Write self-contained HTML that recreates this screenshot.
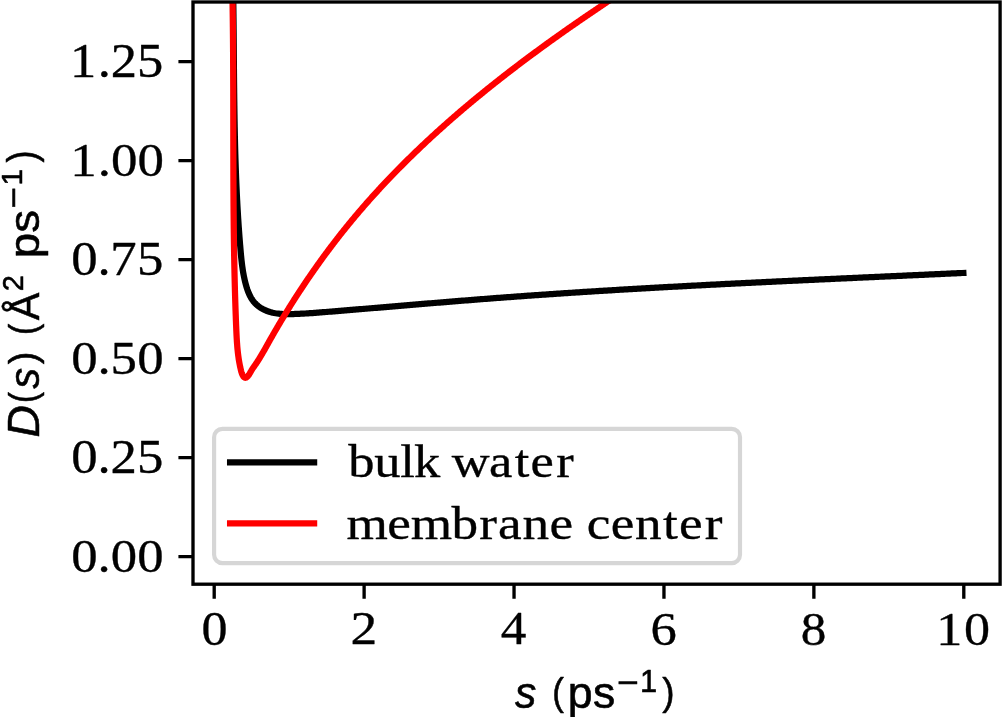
<!DOCTYPE html>
<html><head><meta charset="utf-8"><title>D(s) plot</title><style>html,body{margin:0;padding:0;background:#fff;overflow:hidden}svg{display:block}</style></head><body>
<svg width="1002" height="717" viewBox="0 0 1002 717">
<rect width="1002" height="717" fill="#ffffff"/>
<defs><clipPath id="ax"><rect x="193.0" y="2.0" width="807.10" height="582.20"/></clipPath></defs>
<g clip-path="url(#ax)" fill="none" stroke-width="6.25" stroke-linecap="square" stroke-linejoin="round">
<path stroke="#000000" d="M233.12 -7.99L233.15 -6.53L233.17 -5.06L233.19 -3.59L233.21 -2.13L233.23 -0.66L233.25 0.81L233.28 2.27L233.29 3.74L233.31 5.20L233.33 6.67L233.35 8.14L233.37 9.60L233.39 11.07L233.40 12.54L233.42 14.01L233.44 15.47L233.45 16.94L233.47 18.41L233.49 19.88L233.50 21.34L233.52 22.81L233.53 24.28L233.55 25.75L233.56 27.21L233.57 28.68L233.59 30.15L233.60 31.62L233.62 33.09L233.63 34.55L233.64 36.02L233.65 37.49L233.67 38.96L233.68 40.43L233.69 41.90L233.70 43.37L233.72 44.83L233.73 46.30L233.74 47.77L233.75 49.24L233.77 50.71L233.78 52.18L233.79 53.65L233.80 55.12L233.81 56.59L233.83 58.05L233.84 59.52L233.85 60.99L233.86 62.46L233.88 63.93L233.89 65.40L233.90 66.87L233.91 68.34L233.93 69.81L233.94 71.28L233.95 72.75L233.97 74.22L233.98 75.69L233.99 77.16L234.01 78.63L234.02 80.09L234.03 81.56L234.05 83.03L234.06 84.50L234.08 85.97L234.09 87.44L234.11 88.91L234.13 90.38L234.14 91.85L234.16 93.32L234.18 94.79L234.19 96.26L234.21 97.73L234.23 99.20L234.25 100.67L234.27 102.14L234.29 103.61L234.30 105.08L234.33 106.55L234.35 108.02L234.37 109.49L234.39 110.96L234.41 112.43L234.43 113.90L234.46 115.37L234.48 116.83L234.50 118.30L234.53 119.77L234.55 121.24L234.58 122.71L234.61 124.18L234.63 125.65L234.66 127.12L234.69 128.59L234.72 130.06L234.75 131.53L234.78 133.00L234.81 134.47L234.84 135.94L234.88 137.40L234.91 138.87L234.94 140.34L234.98 141.81L235.01 143.28L235.05 144.75L235.09 146.22L235.12 147.69L235.16 149.16L235.20 150.62L235.24 152.09L235.28 153.56L235.33 155.03L235.37 156.50L235.41 157.97L235.46 159.43L235.50 160.90L235.55 162.37L235.60 163.84L235.65 165.31L235.70 166.78L235.75 168.24L235.80 169.71L235.85 171.18L235.91 172.65L235.96 174.11L236.02 175.58L236.07 177.05L236.13 178.52L236.19 179.98L236.25 181.45L236.31 182.92L236.37 184.38L236.44 185.85L236.50 187.32L236.57 188.78L236.64 190.25L236.70 191.72L236.77 193.18L236.84 194.65L236.92 196.12L236.99 197.58L237.06 199.05L237.14 200.51L237.22 201.98L237.29 203.44L237.37 204.91L237.45 206.38L237.54 207.84L237.62 209.31L237.71 210.77L237.79 212.24L237.88 213.70L237.97 215.17L238.06 216.63L238.15 218.09L238.24 219.56L238.34 221.02L238.44 222.49L238.53 223.95L238.63 225.41L238.73 226.88L238.84 228.34L238.94 229.80L239.04 231.27L239.15 232.73L239.26 234.19L239.37 235.66L239.48 237.12L239.59 238.58L239.71 240.04L239.83 241.51L239.94 242.97L240.06 244.43L240.19 245.89L240.31 247.35L240.43 248.81L240.56 250.28L240.69 251.74L240.82 253.20L240.95 254.66L241.09 256.12L241.24 257.58L241.39 259.04L241.54 260.50L241.71 261.96L241.88 263.41L242.06 264.87L242.25 266.33L242.46 267.78L242.67 269.24L242.90 270.69L243.14 272.15L243.39 273.60L243.66 275.05L243.94 276.51L244.24 277.96L244.56 279.41L244.89 280.85L245.25 282.30L245.62 283.75L246.02 285.19L246.43 286.63L246.87 288.07L247.34 289.49L247.85 290.90L248.38 292.28L248.95 293.65L249.56 294.99L250.21 296.30L250.91 297.57L251.66 298.81L252.45 300.01L253.30 301.16L254.20 302.26L255.16 303.32L256.17 304.32L257.24 305.27L258.35 306.16L259.51 307.01L260.71 307.80L261.95 308.55L263.22 309.24L264.53 309.89L265.86 310.48L267.22 311.02L268.60 311.52L269.99 311.96L271.40 312.36L272.83 312.70L274.26 313.00L275.71 313.26L277.16 313.48L278.63 313.66L280.10 313.81L281.57 313.93L283.05 314.02L284.54 314.08L286.03 314.11L287.52 314.13L289.02 314.13L290.51 314.11L292.00 314.08L293.49 314.04L294.98 313.99L296.47 313.94L297.95 313.88L299.43 313.81L300.91 313.74L302.39 313.67L303.86 313.59L305.34 313.50L306.81 313.41L308.27 313.32L309.74 313.22L311.21 313.12L312.67 313.02L314.14 312.91L315.60 312.80L317.06 312.69L318.52 312.58L319.98 312.47L321.44 312.35L322.90 312.23L324.36 312.12L325.82 312.00L327.28 311.88L328.74 311.76L330.19 311.64L331.65 311.52L333.11 311.40L334.57 311.28L336.03 311.16L337.49 311.04L338.95 310.92L340.41 310.80L341.87 310.68L343.33 310.56L344.79 310.44L346.25 310.32L347.71 310.20L349.17 310.08L350.63 309.96L352.09 309.84L353.56 309.72L355.02 309.60L356.48 309.47L357.94 309.35L359.40 309.23L360.86 309.11L362.32 308.99L363.78 308.87L365.24 308.74L366.71 308.62L368.17 308.50L369.63 308.38L371.09 308.25L372.55 308.13L374.01 308.01L375.48 307.89L376.94 307.77L378.40 307.64L379.86 307.52L381.33 307.40L382.79 307.27L384.25 307.15L385.71 307.03L387.17 306.91L388.64 306.78L390.10 306.66L391.56 306.54L393.03 306.42L394.49 306.29L395.95 306.17L397.41 306.05L398.88 305.92L400.34 305.80L401.80 305.68L403.27 305.56L404.73 305.43L406.19 305.31L407.66 305.19L409.12 305.07L410.58 304.94L412.05 304.82L413.51 304.70L414.97 304.58L416.44 304.46L417.90 304.33L419.37 304.21L420.83 304.09L422.29 303.97L423.76 303.85L425.22 303.73L426.69 303.60L428.15 303.48L429.61 303.36L431.08 303.24L432.54 303.12L434.01 303.00L435.47 302.88L436.94 302.76L438.40 302.64L439.86 302.52L441.33 302.40L442.79 302.28L444.26 302.16L445.72 302.04L447.19 301.92L448.65 301.80L450.12 301.68L451.58 301.56L453.05 301.44L454.51 301.32L455.98 301.20L457.44 301.09L458.91 300.97L460.37 300.85L461.84 300.73L463.30 300.62L464.77 300.50L466.23 300.38L467.70 300.27L469.16 300.15L470.63 300.03L472.09 299.92L473.56 299.80L475.02 299.69L476.49 299.57L477.95 299.46L479.42 299.34L480.88 299.23L482.35 299.11L483.81 299.00L485.28 298.89L486.74 298.77L488.21 298.66L489.67 298.55L491.14 298.44L492.60 298.32L494.07 298.21L495.54 298.10L497.00 297.99L498.47 297.88L499.93 297.77L501.40 297.66L502.86 297.55L504.33 297.44L505.79 297.33L507.26 297.22L508.72 297.11L510.19 297.01L511.65 296.90L513.12 296.79L514.59 296.68L516.05 296.58L517.52 296.47L518.98 296.36L520.45 296.26L521.91 296.15L523.38 296.05L524.84 295.94L526.31 295.84L527.78 295.73L529.24 295.63L530.71 295.53L532.17 295.42L533.64 295.32L535.10 295.22L536.57 295.11L538.03 295.01L539.50 294.91L540.97 294.81L542.43 294.71L543.90 294.61L545.36 294.51L546.83 294.41L548.29 294.31L549.76 294.21L551.22 294.11L552.69 294.01L554.16 293.91L555.62 293.81L557.09 293.71L558.55 293.62L560.02 293.52L561.48 293.42L562.95 293.32L564.42 293.23L565.88 293.13L567.35 293.03L568.81 292.94L570.28 292.84L571.74 292.75L573.21 292.65L574.68 292.56L576.14 292.46L577.61 292.37L579.07 292.27L580.54 292.18L582.00 292.09L583.47 291.99L584.94 291.90L586.40 291.81L587.87 291.71L589.33 291.62L590.80 291.53L592.27 291.44L593.73 291.35L595.20 291.25L596.66 291.16L598.13 291.07L599.59 290.98L601.06 290.89L602.53 290.80L603.99 290.71L605.46 290.62L606.92 290.53L608.39 290.44L609.86 290.36L611.32 290.27L612.79 290.18L614.25 290.09L615.72 290.00L617.19 289.92L618.65 289.83L620.12 289.74L621.58 289.65L623.05 289.57L624.52 289.48L625.98 289.39L627.45 289.31L628.91 289.22L630.38 289.14L631.85 289.05L633.31 288.97L634.78 288.88L636.24 288.80L637.71 288.71L639.18 288.63L640.64 288.54L642.11 288.46L643.57 288.38L645.04 288.29L646.51 288.21L647.97 288.13L649.44 288.04L650.90 287.96L652.37 287.88L653.84 287.80L655.30 287.72L656.77 287.63L658.24 287.55L659.70 287.47L661.17 287.39L662.63 287.31L664.10 287.23L665.57 287.15L667.03 287.07L668.50 286.99L669.96 286.91L671.43 286.83L672.90 286.75L674.36 286.67L675.83 286.59L677.30 286.51L678.76 286.43L680.23 286.35L681.69 286.27L683.16 286.19L684.63 286.12L686.09 286.04L687.56 285.96L689.03 285.88L690.49 285.80L691.96 285.73L693.43 285.65L694.89 285.57L696.36 285.50L697.82 285.42L699.29 285.34L700.76 285.27L702.22 285.19L703.69 285.11L705.16 285.04L706.62 284.96L708.09 284.89L709.56 284.81L711.02 284.74L712.49 284.66L713.95 284.59L715.42 284.51L716.89 284.44L718.35 284.36L719.82 284.29L721.29 284.21L722.75 284.14L724.22 284.06L725.69 283.99L727.15 283.92L728.62 283.84L730.09 283.77L731.55 283.70L733.02 283.62L734.49 283.55L735.95 283.48L737.42 283.40L738.89 283.33L740.35 283.26L741.82 283.19L743.28 283.11L744.75 283.04L746.22 282.97L747.68 282.90L749.15 282.83L750.62 282.76L752.08 282.68L753.55 282.61L755.02 282.54L756.48 282.47L757.95 282.40L759.42 282.33L760.88 282.26L762.35 282.19L763.82 282.11L765.28 282.04L766.75 281.97L768.22 281.90L769.68 281.83L771.15 281.76L772.62 281.69L774.08 281.62L775.55 281.55L777.02 281.48L778.49 281.41L779.95 281.34L781.42 281.27L782.89 281.20L784.35 281.14L785.82 281.07L787.29 281.00L788.75 280.93L790.22 280.86L791.69 280.79L793.15 280.72L794.62 280.65L796.09 280.58L797.55 280.51L799.02 280.45L800.49 280.38L801.95 280.31L803.42 280.24L804.89 280.17L806.36 280.10L807.82 280.04L809.29 279.97L810.76 279.90L812.22 279.83L813.69 279.76L815.16 279.70L816.62 279.63L818.09 279.56L819.56 279.49L821.02 279.43L822.49 279.36L823.96 279.29L825.43 279.22L826.89 279.16L828.36 279.09L829.83 279.02L831.29 278.95L832.76 278.89L834.23 278.82L835.70 278.75L837.16 278.69L838.63 278.62L840.10 278.55L841.56 278.48L843.03 278.42L844.50 278.35L845.96 278.28L847.43 278.22L848.90 278.15L850.37 278.08L851.83 278.02L853.30 277.95L854.77 277.88L856.23 277.82L857.70 277.75L859.17 277.68L860.64 277.62L862.10 277.55L863.57 277.48L865.04 277.42L866.51 277.35L867.97 277.28L869.44 277.22L870.91 277.15L872.37 277.08L873.84 277.02L875.31 276.95L876.78 276.89L878.24 276.82L879.71 276.75L881.18 276.69L882.65 276.62L884.11 276.55L885.58 276.49L887.05 276.42L888.51 276.35L889.98 276.29L891.45 276.22L892.92 276.15L894.38 276.09L895.85 276.02L897.32 275.96L898.79 275.89L900.25 275.82L901.72 275.76L903.19 275.69L904.66 275.62L906.12 275.56L907.59 275.49L909.06 275.42L910.53 275.36L911.99 275.29L913.46 275.22L914.93 275.16L916.40 275.09L917.86 275.02L919.33 274.96L920.80 274.89L922.27 274.82L923.73 274.76L925.20 274.69L926.67 274.62L928.14 274.55L929.60 274.49L931.07 274.42L932.54 274.35L934.01 274.29L935.47 274.22L936.94 274.15L938.41 274.08L939.88 274.02L941.35 273.95L942.81 273.88L944.28 273.81L945.75 273.75L947.22 273.68L948.68 273.61L950.15 273.54L951.62 273.48L953.09 273.41L954.55 273.34L956.02 273.27L957.49 273.20L958.96 273.14L960.43 273.07L961.89 273.00L963.36 272.93"/>
<path stroke="#ff0000" d="M232.37 -8.01L232.39 -6.97L232.41 -5.92L232.43 -4.88L232.45 -3.84L232.47 -2.79L232.48 -1.75L232.50 -0.71L232.52 0.34L232.54 1.38L232.55 2.42L232.57 3.47L232.59 4.51L232.60 5.55L232.62 6.60L232.63 7.64L232.65 8.68L232.66 9.73L232.68 10.77L232.69 11.81L232.71 12.86L232.72 13.90L232.74 14.94L232.75 15.99L232.76 17.03L232.78 18.07L232.79 19.11L232.80 20.16L232.82 21.20L232.83 22.24L232.84 23.29L232.85 24.33L232.86 25.37L232.87 26.42L232.89 27.46L232.90 28.50L232.91 29.54L232.92 30.59L232.93 31.63L232.94 32.67L232.95 33.72L232.96 34.76L232.97 35.80L232.98 36.84L232.99 37.89L233.00 38.93L233.00 39.97L233.01 41.02L233.02 42.06L233.03 43.10L233.04 44.14L233.05 45.19L233.05 46.23L233.06 47.27L233.07 48.31L233.08 49.36L233.08 50.40L233.09 51.44L233.10 52.48L233.10 53.53L233.11 54.57L233.12 55.61L233.12 56.66L233.13 57.70L233.13 58.74L233.14 59.78L233.15 60.83L233.15 61.87L233.16 62.91L233.16 63.95L233.17 64.99L233.17 66.04L233.18 67.08L233.18 68.12L233.19 69.16L233.19 70.21L233.19 71.25L233.20 72.29L233.20 73.33L233.21 74.38L233.21 75.42L233.21 76.46L233.22 77.50L233.22 78.55L233.22 79.59L233.23 80.63L233.23 81.67L233.23 82.71L233.24 83.76L233.24 84.80L233.24 85.84L233.25 86.88L233.25 87.93L233.25 88.97L233.25 90.01L233.26 91.05L233.26 92.09L233.26 93.14L233.26 94.18L233.26 95.22L233.27 96.26L233.27 97.30L233.27 98.35L233.27 99.39L233.27 100.43L233.28 101.47L233.28 102.51L233.28 103.56L233.28 104.60L233.28 105.64L233.28 106.68L233.29 107.73L233.29 108.77L233.29 109.81L233.29 110.85L233.29 111.89L233.29 112.94L233.29 113.98L233.30 115.02L233.30 116.06L233.30 117.10L233.30 118.15L233.30 119.19L233.30 120.23L233.30 121.27L233.30 122.31L233.31 123.36L233.31 124.40L233.31 125.44L233.31 126.48L233.31 127.52L233.31 128.56L233.31 129.61L233.31 130.65L233.31 131.69L233.32 132.73L233.32 133.77L233.32 134.82L233.32 135.86L233.32 136.90L233.32 137.94L233.32 138.98L233.32 140.03L233.33 141.07L233.33 142.11L233.33 143.15L233.33 144.19L233.33 145.24L233.33 146.28L233.33 147.32L233.34 148.36L233.34 149.40L233.34 150.45L233.34 151.49L233.34 152.53L233.35 153.57L233.35 154.61L233.35 155.65L233.35 156.70L233.35 157.74L233.36 158.78L233.36 159.82L233.36 160.86L233.36 161.91L233.37 162.95L233.37 163.99L233.37 165.03L233.37 166.07L233.38 167.12L233.38 168.16L233.38 169.20L233.39 170.24L233.39 171.28L233.39 172.33L233.39 173.37L233.40 174.41L233.40 175.45L233.41 176.49L233.41 177.53L233.41 178.58L233.42 179.62L233.42 180.66L233.43 181.70L233.43 182.74L233.43 183.79L233.44 184.83L233.44 185.87L233.45 186.91L233.45 187.95L233.46 189.00L233.46 190.04L233.47 191.08L233.48 192.12L233.48 193.16L233.49 194.21L233.49 195.25L233.50 196.29L233.51 197.33L233.51 198.37L233.52 199.42L233.52 200.46L233.53 201.50L233.54 202.54L233.55 203.59L233.55 204.63L233.56 205.67L233.57 206.71L233.58 207.75L233.58 208.80L233.59 209.84L233.60 210.88L233.61 211.92L233.62 212.96L233.63 214.01L233.64 215.05L233.65 216.09L233.66 217.13L233.67 218.17L233.68 219.22L233.69 220.26L233.70 221.30L233.71 222.34L233.72 223.39L233.73 224.43L233.74 225.47L233.75 226.51L233.76 227.56L233.77 228.60L233.79 229.64L233.80 230.68L233.81 231.72L233.82 232.77L233.84 233.81L233.85 234.85L233.86 235.89L233.88 236.94L233.89 237.98L233.90 239.02L233.92 240.06L233.93 241.11L233.95 242.15L233.96 243.19L233.98 244.23L233.99 245.28L234.01 246.32L234.03 247.36L234.04 248.40L234.06 249.45L234.08 250.49L234.09 251.53L234.11 252.57L234.13 253.62L234.15 254.66L234.16 255.70L234.18 256.74L234.20 257.79L234.22 258.83L234.24 259.87L234.26 260.91L234.28 261.96L234.30 263.00L234.32 264.04L234.34 265.09L234.36 266.13L234.38 267.17L234.40 268.21L234.43 269.26L234.45 270.30L234.47 271.34L234.49 272.38L234.52 273.43L234.54 274.47L234.56 275.51L234.59 276.56L234.61 277.60L234.64 278.64L234.66 279.69L234.69 280.73L234.71 281.77L234.74 282.81L234.77 283.86L234.79 284.90L234.82 285.94L234.85 286.99L234.88 288.03L234.90 289.07L234.93 290.12L234.96 291.16L234.99 292.20L235.02 293.25L235.05 294.29L235.08 295.33L235.11 296.38L235.14 297.42L235.17 298.46L235.21 299.51L235.24 300.55L235.27 301.59L235.30 302.64L235.34 303.68L235.37 304.72L235.40 305.77L235.44 306.81L235.47 307.85L235.51 308.90L235.54 309.94L235.58 310.98L235.62 312.03L235.65 313.07L235.69 314.11L235.73 315.16L235.77 316.20L235.80 317.25L235.84 318.29L235.88 319.33L235.92 320.38L235.96 321.42L236.00 322.46L236.04 323.51L236.08 324.55L236.12 325.60L236.17 326.64L236.21 327.68L236.25 328.73L236.30 329.77L236.34 330.81L236.39 331.86L236.43 332.90L236.48 333.94L236.53 334.99L236.59 336.03L236.64 337.07L236.70 338.11L236.76 339.15L236.82 340.19L236.89 341.23L236.96 342.26L237.03 343.30L237.11 344.34L237.19 345.37L237.27 346.40L237.36 347.43L237.45 348.46L237.55 349.49L237.66 350.52L237.76 351.55L237.88 352.57L238.00 353.59L238.12 354.61L238.25 355.63L238.39 356.65L238.53 357.66L238.68 358.67L238.84 359.68L239.01 360.69L239.18 361.70L239.36 362.71L239.55 363.72L239.74 364.73L239.95 365.76L240.17 366.78L240.39 367.82L240.63 368.87L240.88 369.93L241.14 371.00L241.43 372.08L241.77 373.16L242.17 374.22L242.65 375.26L243.22 376.24L243.87 377.05L244.58 377.60L245.35 377.77L246.17 377.54L246.98 376.99L247.77 376.23L248.49 375.35L249.14 374.41L249.75 373.42L250.33 372.41L250.89 371.41L251.45 370.44L252.02 369.51L252.60 368.62L253.18 367.76L253.76 366.92L254.34 366.09L254.92 365.27L255.50 364.44L256.07 363.61L256.64 362.77L257.20 361.92L257.75 361.07L258.30 360.21L258.84 359.35L259.39 358.48L259.92 357.61L260.45 356.73L260.98 355.85L261.51 354.96L262.03 354.07L262.55 353.18L263.07 352.29L263.59 351.39L264.10 350.48L264.62 349.58L265.13 348.67L265.64 347.77L266.15 346.86L266.66 345.95L267.17 345.04L267.68 344.13L268.19 343.22L268.70 342.30L269.21 341.39L269.72 340.48L270.23 339.57L270.75 338.67L271.27 337.76L271.78 336.85L272.30 335.94L272.82 335.04L273.34 334.13L273.86 333.23L274.38 332.32L274.91 331.42L275.43 330.51L275.96 329.61L276.48 328.71L277.01 327.81L277.54 326.91L278.07 326.01L278.60 325.11L279.13 324.21L279.67 323.31L280.20 322.41L280.74 321.51L281.27 320.62L281.81 319.72L282.35 318.82L282.89 317.93L283.43 317.04L283.97 316.14L284.51 315.25L285.06 314.36L285.60 313.47L286.15 312.57L286.69 311.68L287.24 310.79L287.79 309.91L288.34 309.02L288.89 308.13L289.44 307.24L290.00 306.36L290.55 305.47L291.11 304.59L291.66 303.70L292.22 302.82L292.78 301.94L293.34 301.05L293.90 300.17L294.46 299.29L295.03 298.41L295.59 297.53L296.16 296.65L296.72 295.78L297.29 294.90L297.86 294.02L298.43 293.15L299.00 292.27L299.57 291.40L300.14 290.52L300.72 289.65L301.29 288.78L301.87 287.91L302.45 287.04L303.03 286.17L303.60 285.30L304.19 284.43L304.77 283.56L305.35 282.69L305.93 281.83L306.52 280.96L307.10 280.10L307.69 279.24L308.28 278.37L308.87 277.51L309.46 276.65L310.05 275.79L310.64 274.93L311.24 274.07L311.83 273.21L312.43 272.35L313.02 271.50L313.62 270.64L314.22 269.78L314.82 268.93L315.42 268.08L316.02 267.22L316.63 266.37L317.23 265.52L317.83 264.67L318.44 263.82L319.05 262.97L319.66 262.12L320.27 261.28L320.88 260.43L321.49 259.59L322.10 258.74L322.72 257.90L323.33 257.05L323.95 256.21L324.57 255.37L325.18 254.53L325.80 253.69L326.42 252.85L327.05 252.02L327.67 251.18L328.29 250.34L328.92 249.51L329.54 248.67L330.17 247.84L330.80 247.01L331.43 246.18L332.06 245.35L332.69 244.52L333.32 243.69L333.96 242.86L334.59 242.03L335.23 241.20L335.86 240.38L336.50 239.55L337.14 238.73L337.78 237.91L338.42 237.09L339.07 236.27L339.71 235.45L340.35 234.63L341.00 233.81L341.65 232.99L342.29 232.18L342.94 231.36L343.59 230.55L344.24 229.73L344.90 228.92L345.55 228.11L346.20 227.30L346.86 226.49L347.52 225.68L348.17 224.87L348.83 224.07L349.49 223.26L350.15 222.45L350.82 221.65L351.48 220.85L352.14 220.05L352.81 219.24L353.48 218.44L354.14 217.65L354.81 216.85L355.48 216.05L356.15 215.25L356.82 214.46L357.50 213.66L358.17 212.87L358.85 212.08L359.52 211.29L360.20 210.50L360.88 209.71L361.56 208.92L362.24 208.13L362.92 207.34L363.60 206.56L364.28 205.77L364.97 204.99L365.65 204.20L366.34 203.42L367.03 202.64L367.72 201.86L368.41 201.08L369.10 200.30L369.79 199.52L370.48 198.75L371.17 197.97L371.87 197.20L372.56 196.42L373.26 195.65L373.96 194.88L374.66 194.11L375.36 193.34L376.06 192.57L376.76 191.80L377.46 191.03L378.16 190.26L378.87 189.50L379.57 188.73L380.28 187.97L380.99 187.20L381.70 186.44L382.40 185.68L383.12 184.92L383.83 184.16L384.54 183.40L385.25 182.64L385.97 181.89L386.68 181.13L387.40 180.37L388.11 179.62L388.83 178.87L389.55 178.11L390.27 177.36L390.99 176.61L391.71 175.86L392.43 175.11L393.16 174.36L393.88 173.62L394.61 172.87L395.33 172.12L396.06 171.38L396.79 170.63L397.51 169.89L398.24 169.15L398.97 168.41L399.71 167.67L400.44 166.93L401.17 166.19L401.91 165.45L402.64 164.71L403.38 163.98L404.11 163.24L404.85 162.50L405.59 161.77L406.33 161.04L407.07 160.31L407.81 159.57L408.55 158.84L409.29 158.11L410.04 157.38L410.78 156.66L411.53 155.93L412.27 155.20L413.02 154.48L413.77 153.75L414.51 153.03L415.26 152.30L416.01 151.58L416.77 150.86L417.52 150.14L418.27 149.42L419.02 148.70L419.78 147.98L420.53 147.26L421.29 146.55L422.04 145.83L422.80 145.12L423.56 144.40L424.32 143.69L425.08 142.97L425.84 142.26L426.60 141.55L427.36 140.84L428.13 140.13L428.89 139.42L429.65 138.71L430.42 138.01L431.19 137.30L431.95 136.59L432.72 135.89L433.49 135.19L434.26 134.48L435.03 133.78L435.80 133.08L436.57 132.38L437.34 131.68L438.11 130.98L438.89 130.28L439.66 129.58L440.44 128.88L441.21 128.19L441.99 127.49L442.77 126.80L443.55 126.10L444.32 125.41L445.10 124.71L445.88 124.02L446.66 123.33L447.45 122.64L448.23 121.95L449.01 121.26L449.79 120.57L450.58 119.89L451.36 119.20L452.15 118.51L452.94 117.83L453.72 117.14L454.51 116.46L455.30 115.78L456.09 115.09L456.88 114.41L457.67 113.73L458.46 113.05L459.25 112.37L460.04 111.69L460.84 111.02L461.63 110.34L462.43 109.66L463.22 108.99L464.02 108.31L464.81 107.64L465.61 106.96L466.41 106.29L467.20 105.62L468.00 104.95L468.80 104.27L469.60 103.60L470.40 102.94L471.21 102.27L472.01 101.60L472.81 100.93L473.61 100.26L474.42 99.60L475.22 98.93L476.03 98.27L476.83 97.60L477.64 96.94L478.45 96.28L479.25 95.62L480.06 94.96L480.87 94.29L481.68 93.64L482.49 92.98L483.30 92.32L484.11 91.66L484.92 91.00L485.73 90.35L486.55 89.69L487.36 89.04L488.17 88.38L488.99 87.73L489.80 87.07L490.62 86.42L491.43 85.77L492.25 85.12L493.07 84.47L493.88 83.82L494.70 83.17L495.52 82.52L496.34 81.87L497.16 81.23L497.98 80.58L498.80 79.93L499.62 79.29L500.44 78.64L501.27 78.00L502.09 77.36L502.91 76.71L503.74 76.07L504.56 75.43L505.39 74.79L506.21 74.15L507.04 73.51L507.86 72.87L508.69 72.23L509.52 71.59L510.34 70.96L511.17 70.32L512.00 69.69L512.83 69.05L513.66 68.42L514.49 67.78L515.32 67.15L516.15 66.52L516.98 65.88L517.82 65.25L518.65 64.62L519.48 63.99L520.31 63.36L521.15 62.73L521.98 62.10L522.82 61.48L523.65 60.85L524.49 60.22L525.32 59.60L526.16 58.97L527.00 58.35L527.83 57.72L528.67 57.10L529.51 56.48L530.35 55.85L531.19 55.23L532.03 54.61L532.87 53.99L533.71 53.37L534.55 52.75L535.39 52.13L536.23 51.51L537.07 50.89L537.91 50.28L538.75 49.66L539.60 49.04L540.44 48.43L541.28 47.81L542.13 47.20L542.97 46.58L543.82 45.97L544.66 45.36L545.51 44.75L546.35 44.13L547.20 43.52L548.05 42.91L548.89 42.30L549.74 41.69L550.59 41.08L551.43 40.48L552.28 39.87L553.13 39.26L553.98 38.65L554.83 38.05L555.68 37.44L556.53 36.84L557.38 36.23L558.23 35.63L559.08 35.03L559.93 34.42L560.78 33.82L561.63 33.22L562.49 32.62L563.34 32.02L564.19 31.42L565.04 30.82L565.90 30.22L566.75 29.62L567.60 29.02L568.46 28.42L569.31 27.82L570.17 27.23L571.02 26.63L571.88 26.04L572.73 25.44L573.59 24.85L574.44 24.25L575.30 23.66L576.16 23.07L577.01 22.47L577.87 21.88L578.73 21.29L579.58 20.70L580.44 20.11L581.30 19.52L582.16 18.93L583.02 18.34L583.88 17.75L584.73 17.16L585.59 16.57L586.45 15.99L587.31 15.40L588.17 14.81L589.03 14.23L589.89 13.64L590.75 13.06L591.61 12.47L592.47 11.89L593.33 11.31L594.20 10.72L595.06 10.14L595.92 9.56L596.78 8.98L597.64 8.39L598.50 7.81L599.37 7.23L600.23 6.65L601.09 6.07L601.95 5.50L602.82 4.92L603.68 4.34L604.54 3.76L605.41 3.18L606.27 2.61L607.13 2.03L608.00 1.46L608.86 0.88L609.73 0.31L610.59 -0.27L611.46 -0.84L612.32 -1.42L613.19 -1.99L614.05 -2.56L614.91 -3.13L615.78 -3.71L616.65 -4.28L617.51 -4.85L618.38 -5.42L619.24 -5.99L620.11 -6.56L620.97 -7.13L621.84 -7.70L622.70 -8.26L623.57 -8.83L624.44 -9.40L625.30 -9.97"/>
</g>
<rect x="193.0" y="2.0" width="807.10" height="582.20" fill="none" stroke="#000" stroke-width="3.33" stroke-linejoin="miter"/>
<path d="M214.20 584.20V598.78M364.12 584.20V598.78M514.04 584.20V598.78M663.96 584.20V598.78M813.88 584.20V598.78M963.80 584.20V598.78M193.00 556.60H178.42M193.00 457.60H178.42M193.00 358.60H178.42M193.00 259.60H178.42M193.00 160.60H178.42M193.00 61.60H178.42" stroke="#000" stroke-width="3.33" fill="none"/>
<rect x="214.1" y="428.8" width="525.90" height="134.40" rx="8.33" ry="8.33" fill="#ffffff" fill-opacity="0.8" stroke="#d6d6d6" stroke-width="4.17"/>
<path d="M230.1 462.3H314.1" stroke="#000" stroke-width="6.25" stroke-linecap="square"/>
<path d="M230.1 523.3H314.1" stroke="#ff0000" stroke-width="6.25" stroke-linecap="square"/>
<g opacity="0.999">
<text x="-0.3 49.9 75.0 125.3" transform="translate(71.32 571.85) scale(0.5272 0.4750)" style="font-family:'Liberation Serif',serif;font-style:normal;font-size:100px" stroke="#000" stroke-width="0.73" stroke-linejoin="round">0.00</text>
<text x="-0.3 49.8 74.4 124.6" transform="translate(71.32 472.85) scale(0.5274 0.4750)" style="font-family:'Liberation Serif',serif;font-style:normal;font-size:100px" stroke="#000" stroke-width="0.73" stroke-linejoin="round">0.25</text>
<text x="-0.1 50.0 74.4 125.1" transform="translate(71.21 373.76) scale(0.5284 0.4721)" style="font-family:'Liberation Serif',serif;font-style:normal;font-size:100px" stroke="#000" stroke-width="0.73" stroke-linejoin="round">0.50</text>
<text x="-0.3 49.8 73.6 124.6" transform="translate(71.32 274.85) scale(0.5274 0.4750)" style="font-family:'Liberation Serif',serif;font-style:normal;font-size:100px" stroke="#000" stroke-width="0.73" stroke-linejoin="round">0.75</text>
<text x="-1.9 50.3 75.3 125.3" transform="translate(71.17 175.85) scale(0.5293 0.4735)" style="font-family:'Liberation Serif',serif;font-style:normal;font-size:100px" stroke="#000" stroke-width="0.74" stroke-linejoin="round">1.00</text>
<text x="-2.5 50.0 74.7 125.1" transform="translate(71.40 77.22) scale(0.5252 0.4791)" style="font-family:'Liberation Serif',serif;font-style:normal;font-size:100px" stroke="#000" stroke-width="0.73" stroke-linejoin="round">1.25</text>
<text transform="translate(201.44 644.95) scale(0.5205 0.4750)" style="font-family:'Liberation Serif',serif;font-style:normal;font-size:100px" stroke="#000" stroke-width="0.73" stroke-linejoin="round">0</text>
<text transform="translate(350.56 644.44) scale(0.5341 0.4612)" style="font-family:'Liberation Serif',serif;font-style:normal;font-size:100px" stroke="#000" stroke-width="0.74" stroke-linejoin="round">2</text>
<text transform="translate(500.77 644.43) scale(0.5128 0.4727)" style="font-family:'Liberation Serif',serif;font-style:normal;font-size:100px" stroke="#000" stroke-width="0.73" stroke-linejoin="round">4</text>
<text transform="translate(650.50 644.66) scale(0.5256 0.4691)" style="font-family:'Liberation Serif',serif;font-style:normal;font-size:100px" stroke="#000" stroke-width="0.74" stroke-linejoin="round">6</text>
<text transform="translate(800.77 644.66) scale(0.5114 0.4691)" style="font-family:'Liberation Serif',serif;font-style:normal;font-size:100px" stroke="#000" stroke-width="0.74" stroke-linejoin="round">8</text>
<text x="-2.3 50.7" transform="translate(937.53 644.57) scale(0.5213 0.4662)" style="font-family:'Liberation Serif',serif;font-style:normal;font-size:100px" stroke="#000" stroke-width="0.75" stroke-linejoin="round">10</text>
<text x="1.6 51.2 100.7 126.8 156.8 198.7 269.7 318.4 348.6 397.7" transform="translate(347.50 477.43) scale(0.5250 0.4700)" style="font-family:'Liberation Serif',serif;font-style:normal;font-size:100px" stroke="#000" stroke-width="0.74" stroke-linejoin="round">bulk water</text>
<text x="-0.7 75.9 119.8 196.8 248.6 284.0 329.9 380.9 410.9 450.8 495.9 541.6 594.3 624.0 672.5" transform="translate(346.91 538.63) scale(0.5321 0.4743)" style="font-family:'Liberation Serif',serif;font-style:normal;font-size:100px" stroke="#000" stroke-width="0.74" stroke-linejoin="round">membrane center</text>
<text transform="translate(515.10 708.12) scale(0.4265 0.4386)" style="font-family:'Liberation Sans',sans-serif;font-style:italic;font-size:100px" stroke="#000" stroke-width="1.32" stroke-linejoin="round">s</text>
<text transform="translate(552.25 705.04) scale(0.3500 0.3938)" style="font-family:'Liberation Sans',sans-serif;font-style:normal;font-size:100px" stroke="#000" stroke-width="1.49" stroke-linejoin="round">(</text>
<text x="0.5 57.3" transform="translate(567.43 708.36) scale(0.4458 0.4429)" style="font-family:'Liberation Sans',sans-serif;font-style:normal;font-size:100px" stroke="#000" stroke-width="1.32" stroke-linejoin="round">ps</text>
<text transform="translate(616.70 693.99) scale(0.3740 0.3444)" style="font-family:'Liberation Sans',sans-serif;font-style:normal;font-size:100px" stroke="#000" stroke-width="1.35" stroke-linejoin="round">−</text>
<text transform="translate(639.94 691.79) scale(0.3089 0.3099)" style="font-family:'Liberation Sans',sans-serif;font-style:normal;font-size:100px" stroke="#000" stroke-width="1.88" stroke-linejoin="round">1</text>
<text transform="translate(662.30 705.04) scale(0.3679 0.3938)" style="font-family:'Liberation Sans',sans-serif;font-style:normal;font-size:100px" stroke="#000" stroke-width="1.49" stroke-linejoin="round">)</text>
<g transform="rotate(-90)"><text transform="translate(-437.40 38.66) scale(0.4485 0.4352)" style="font-family:'Liberation Sans',sans-serif;font-style:italic;font-size:100px" stroke="#000" stroke-width="1.34" stroke-linejoin="round">D</text><text transform="translate(-402.94 35.81) scale(0.3286 0.3906)" style="font-family:'Liberation Sans',sans-serif;font-style:normal;font-size:100px" stroke="#000" stroke-width="1.50" stroke-linejoin="round">(</text><text transform="translate(-388.70 38.95) scale(0.4184 0.4246)" style="font-family:'Liberation Sans',sans-serif;font-style:italic;font-size:100px" stroke="#000" stroke-width="1.36" stroke-linejoin="round">s</text><text transform="translate(-364.20 35.81) scale(0.3786 0.3906)" style="font-family:'Liberation Sans',sans-serif;font-style:normal;font-size:100px" stroke="#000" stroke-width="1.50" stroke-linejoin="round">)</text><text transform="translate(-335.10 35.89) scale(0.3393 0.3958)" style="font-family:'Liberation Sans',sans-serif;font-style:normal;font-size:100px" stroke="#000" stroke-width="1.48" stroke-linejoin="round">(</text><text transform="translate(-320.20 38.77) scale(0.4149 0.4326)" style="font-family:'Liberation Sans',sans-serif;font-style:normal;font-size:100px" stroke="#000" stroke-width="1.36" stroke-linejoin="round">Å</text><text transform="translate(-291.36 23.10) scale(0.2896 0.3042)" style="font-family:'Liberation Sans',sans-serif;font-style:normal;font-size:100px" stroke="#000" stroke-width="1.92" stroke-linejoin="round">2</text><text x="1.6 57.2" transform="translate(-258.94 38.96) scale(0.4567 0.4338)" style="font-family:'Liberation Sans',sans-serif;font-style:normal;font-size:100px" stroke="#000" stroke-width="1.35" stroke-linejoin="round">ps</text><text transform="translate(-208.67 25.09) scale(0.3680 0.3444)" style="font-family:'Liberation Sans',sans-serif;font-style:normal;font-size:100px" stroke="#000" stroke-width="1.35" stroke-linejoin="round">−</text><text transform="translate(-185.58 22.31) scale(0.2978 0.2944)" style="font-family:'Liberation Sans',sans-serif;font-style:normal;font-size:100px" stroke="#000" stroke-width="1.98" stroke-linejoin="round">1</text><text transform="translate(-162.60 36.38) scale(0.3607 0.4010)" style="font-family:'Liberation Sans',sans-serif;font-style:normal;font-size:100px" stroke="#000" stroke-width="1.46" stroke-linejoin="round">)</text></g>
</g>
</svg>
</body></html>
